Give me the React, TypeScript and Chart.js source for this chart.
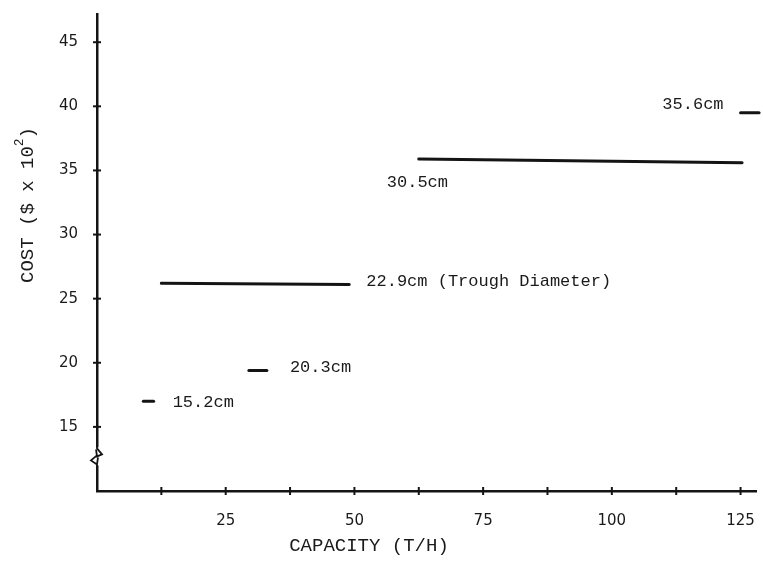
import React, { useEffect, useRef } from 'react';
import { Chart, registerables } from 'chart.js';

Chart.register(...registerables);

// ---- data ----
const diameterLabels = ['15.2cm', '20.3cm', '22.9cm (Trough Diameter)', '30.5cm', '35.6cm'];
const capacityStart = [9, 29.5, 12.5, 62.5, 125];
const capacityEnd = [11, 33, 49, 125.3, 128.6];
const costStart = [17.0, 19.4, 26.2, 35.9, 39.5];
const costEnd = [17.0, 19.4, 26.1, 35.6, 39.5];

const xTickValues = [12.5, 25, 37.5, 50, 62.5, 75, 87.5, 100, 112.5, 125];
const xTickLabels = ['', '25', '', '50', '', '75', '', '100', '', '125'];
const yTickValues = [15, 20, 25, 30, 35, 40, 45];
const yTickLabels = ['15', '20', '25', '30', '35', '40', '45'];

const X_MIN = 0;
const X_MAX = 128;
const Y_MIN = 10;
const Y_MAX = 47.2;
const BREAK_AT = 12.7;

const X_TITLE = 'CAPACITY (T/H)';
const Y_TITLE_MAIN = 'COST ($ x 10';
const Y_TITLE_SUP = '2';
const Y_TITLE_END = ')';

// ---- styles ----
const INK = '#141414';
const TEXT = '#1a1a1a';
const LABEL_FONT = '17px "Liberation Mono", "DejaVu Sans Mono", monospace';
const TITLE_FONT = '19px "Liberation Mono", "DejaVu Sans Mono", monospace';
const TICK_FONT_FAMILY = '"DejaVu Sans", "Noto Sans", sans-serif';

// label placement: anchor at segment 'start' or 'end', pixel offset, text alignment
const labelPlacement = [
  { anchor: 'end', dx: 19, dy: 1, align: 'left' },
  { anchor: 'end', dx: 23, dy: -3, align: 'left' },
  { anchor: 'end', dx: 17, dy: -3, align: 'left' },
  { anchor: 'start', dx: -32, dy: 24, align: 'left' },
  { anchor: 'start', dx: -17, dy: -8, align: 'right' },
];

const decorPlugin = {
  id: 'decor',
  afterDraw(chart: any) {
    const { ctx, chartArea, scales } = chart;
    const x = scales.x;
    const y = scales.y;
    ctx.save();

    // tick crosses
    ctx.strokeStyle = INK;
    ctx.lineWidth = 2;
    xTickValues.forEach((v) => {
      const px = x.getPixelForValue(v);
      ctx.beginPath();
      ctx.moveTo(px, chartArea.bottom - 4);
      ctx.lineTo(px, chartArea.bottom + 4);
      ctx.stroke();
    });
    yTickValues.forEach((v) => {
      const py = y.getPixelForValue(v);
      ctx.beginPath();
      ctx.moveTo(chartArea.left - 4, py);
      ctx.lineTo(chartArea.left + 4, py);
      ctx.stroke();
    });

    // axis break symbol
    const bx = chartArea.left;
    const by = y.getPixelForValue(BREAK_AT);
    ctx.fillStyle = '#ffffff';
    ctx.fillRect(bx - 3, by - 9, 6, 18);
    ctx.lineWidth = 1.8;
    ctx.beginPath();
    ctx.moveTo(bx, by - 11);
    ctx.lineTo(bx, by - 8);
    ctx.lineTo(bx + 5, by - 2);
    ctx.lineTo(bx, by);
    ctx.lineTo(bx - 1, by - 7);
    ctx.stroke();
    ctx.beginPath();
    ctx.moveTo(bx, by - 1);
    ctx.lineTo(bx - 6, by + 4);
    ctx.lineTo(bx, by + 8);
    ctx.lineTo(bx + 1, by + 1);
    ctx.moveTo(bx, by + 8);
    ctx.lineTo(bx, by + 11);
    ctx.stroke();

    // segment labels
    ctx.fillStyle = TEXT;
    ctx.font = LABEL_FONT;
    ctx.textBaseline = 'middle';
    diameterLabels.forEach((label, i) => {
      const p = labelPlacement[i];
      const ax = x.getPixelForValue(p.anchor === 'end' ? capacityEnd[i] : capacityStart[i]);
      const ay = y.getPixelForValue(p.anchor === 'end' ? costEnd[i] : costStart[i]);
      ctx.textAlign = p.align;
      ctx.fillText(label, ax + p.dx, ay + p.dy);
    });

    // x title
    ctx.font = TITLE_FONT;
    ctx.textAlign = 'center';
    ctx.textBaseline = 'middle';
    ctx.fillText(X_TITLE, 369, 546);

    // y title (rotated, with superscript)
    ctx.translate(28, 283);
    ctx.rotate(-Math.PI / 2);
    ctx.textAlign = 'left';
    ctx.textBaseline = 'middle';
    ctx.font = TITLE_FONT;
    ctx.fillText(Y_TITLE_MAIN, 0, 0);
    let w = ctx.measureText(Y_TITLE_MAIN).width;
    ctx.font = '13px "Liberation Mono", "DejaVu Sans Mono", monospace';
    ctx.fillText(Y_TITLE_SUP, w, -8);
    w += ctx.measureText(Y_TITLE_SUP).width;
    ctx.font = TITLE_FONT;
    ctx.fillText(Y_TITLE_END, w, 0);

    ctx.restore();
  },
};

export default function App() {
  const canvasRef = useRef<HTMLCanvasElement | null>(null);

  useEffect(() => {
    const canvas = canvasRef.current;
    if (!canvas) return;
    const datasets = diameterLabels.map((label, i) => ({
      label,
      data: [
        { x: capacityStart[i], y: costStart[i] },
        { x: capacityEnd[i], y: costEnd[i] },
      ],
      borderColor: INK,
      backgroundColor: INK,
      borderWidth: 3,
      borderCapStyle: 'round' as const,
      pointRadius: 0,
      pointHoverRadius: 0,
      showLine: true,
      clip: false as any,
      tension: 0,
    }));

    const chart = new Chart(canvas, {
      type: 'scatter',
      data: { datasets },
      plugins: [decorPlugin],
      options: {
        responsive: false,
        animation: false,
        events: [],
        layout: { padding: { left: 0, right: 7, top: 14, bottom: 0 } },
        plugins: {
          legend: { display: false },
          tooltip: { enabled: false },
          title: { display: false },
        },
        scales: {
          x: {
            type: 'linear',
            min: X_MIN,
            max: X_MAX,
            afterFit: (s: any) => {
              s.height = 82;
              s.paddingLeft = 0;
              s.paddingRight = 0;
            },
            afterBuildTicks: (s: any) => {
              s.ticks = xTickValues.map((v) => ({ value: v }));
            },
            ticks: {
              autoSkip: false,
              maxRotation: 0,
              padding: 21,
              color: TEXT,
              font: { family: TICK_FONT_FAMILY, size: 15 },
              callback: (_v: any, idx: number) => xTickLabels[idx] ?? '',
            },
            grid: { display: true, drawOnChartArea: false, drawTicks: false, color: 'rgba(0,0,0,0)' },
            border: { display: true, color: INK, width: 2.5 },
          },
          y: {
            type: 'linear',
            min: Y_MIN,
            max: Y_MAX,
            afterFit: (s: any) => {
              s.width = 97;
              s.paddingTop = 0;
              s.paddingBottom = 0;
            },
            afterBuildTicks: (s: any) => {
              s.ticks = yTickValues.map((v) => ({ value: v }));
            },
            ticks: {
              autoSkip: false,
              padding: 19,
              color: TEXT,
              font: { family: TICK_FONT_FAMILY, size: 15 },
              callback: (_v: any, idx: number) => yTickLabels[idx] ?? '',
            },
            grid: { display: true, drawOnChartArea: false, drawTicks: false, color: 'rgba(0,0,0,0)' },
            border: { display: true, color: INK, width: 2.5 },
          },
        },
      },
    });
    return () => chart.destroy();
  }, []);

  return (
    <div style={{ position: 'fixed', left: 0, top: 0, width: 763, height: 573, background: '#ffffff' }}>
      <canvas ref={canvasRef} width={763} height={573} style={{ display: 'block' }} />
    </div>
  );
}
